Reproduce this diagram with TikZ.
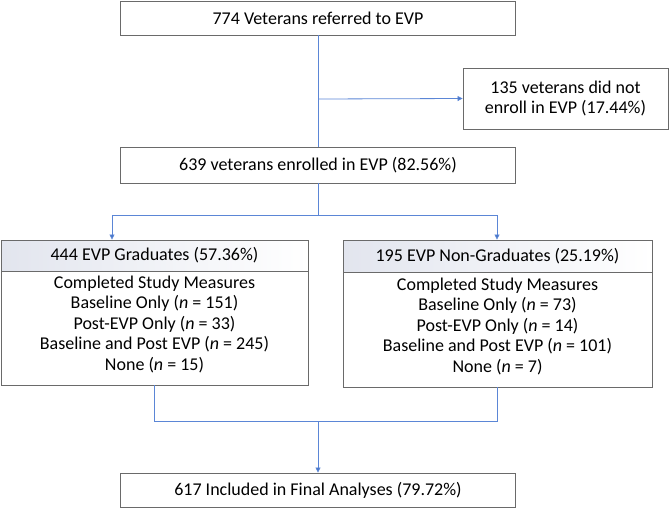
\documentclass[tikz,border=0pt]{standalone}
\usepackage{fontspec}
\setmainfont{Carlito}
\usetikzlibrary{arrows.meta}
\definecolor{conn}{HTML}{5B86D6}
\definecolor{arrowc}{HTML}{4472C4}
\definecolor{boxline}{HTML}{6A6A6A}
\definecolor{headfill}{HTML}{E2E5EE}
\begin{document}
\begin{tikzpicture}[x=1pt,y=-1pt,
  txt/.style={font=\fontsize{18}{20.5}\selectfont,align=center,inner sep=0pt},
  box/.style={txt,draw=boxline,line width=0.9pt,minimum width=395pt,minimum height=34pt},
  outer/.style={draw=boxline,line width=0.9pt,inner sep=0pt},
  head/.style={txt,draw=boxline,line width=0.9pt,left color=headfill,right color=white},
  conline/.style={draw=conn,line width=0.8pt},
  conarrow/.style={conline,-{Triangle[length=5pt,width=5pt,fill=arrowc]}}]
\useasboundingbox (0,0) rectangle (669,509);

\node[box] (top) at (318,18) {774 Veterans referred to EVP};
\node[box,minimum width=205pt,minimum height=61pt] (noenr) at (565.5,98.5)
  {135 veterans did not\\enroll in EVP (17.44\%)};
\node[box,minimum height=36pt] (enr) at (318,165) {639 veterans enrolled in EVP (82.56\%)};

\node[outer,minimum width=307pt,minimum height=145pt] (gbox) at (154.5,312.5) {};
\node[head,minimum width=307pt,minimum height=31pt] (ghead) at (154.5,255.5) {444 EVP Graduates (57.36\%)};
\node[txt] (gtext) at (154.5,324) {Completed Study Measures\\Baseline Only (\textit{n} = 151)\\Post-EVP Only (\textit{n} = 33)\\Baseline and Post EVP (\textit{n} = 245)\\None (\textit{n} = 15)};

\node[outer,minimum width=309pt,minimum height=147pt] (nbox) at (497.5,313.5) {};
\node[head,minimum width=309pt,minimum height=32pt] (nhead) at (497.5,256) {195 EVP Non-Graduates (25.19\%)};
\node[txt] (ntext) at (497.5,326) {Completed Study Measures\\Baseline Only (\textit{n} = 73)\\Post-EVP Only (\textit{n} = 14)\\Baseline and Post EVP (\textit{n} = 101)\\None (\textit{n} = 7)};

\node[box,minimum height=34pt] (final) at (318,490) {617 Included in Final Analyses (79.72\%)};

\coordinate (b1) at (318,99);
\coordinate (s1) at (318,215);
\coordinate (sl) at (112,215);
\coordinate (sr) at (497,215);
\coordinate (gb) at (154,385);
\coordinate (gl) at (154,421);
\coordinate (nr) at (497,421);
\coordinate (mid) at (318,421);

\draw[conline] (top.south) -- (enr.north);
\draw[conarrow] (b1) -- (noenr.west);
\draw[conline] (enr.south) -- (s1);
\draw[conarrow] (sl) -- (sr) -- (sr |- nhead.north);
\draw[conarrow] (sl) -- (sl |- ghead.north);
\draw[conline] (gb) -- (gl) -- (nr) -- (nr |- nbox.south);
\draw[conarrow] (mid) -- (final.north);
\end{tikzpicture}
\end{document}
